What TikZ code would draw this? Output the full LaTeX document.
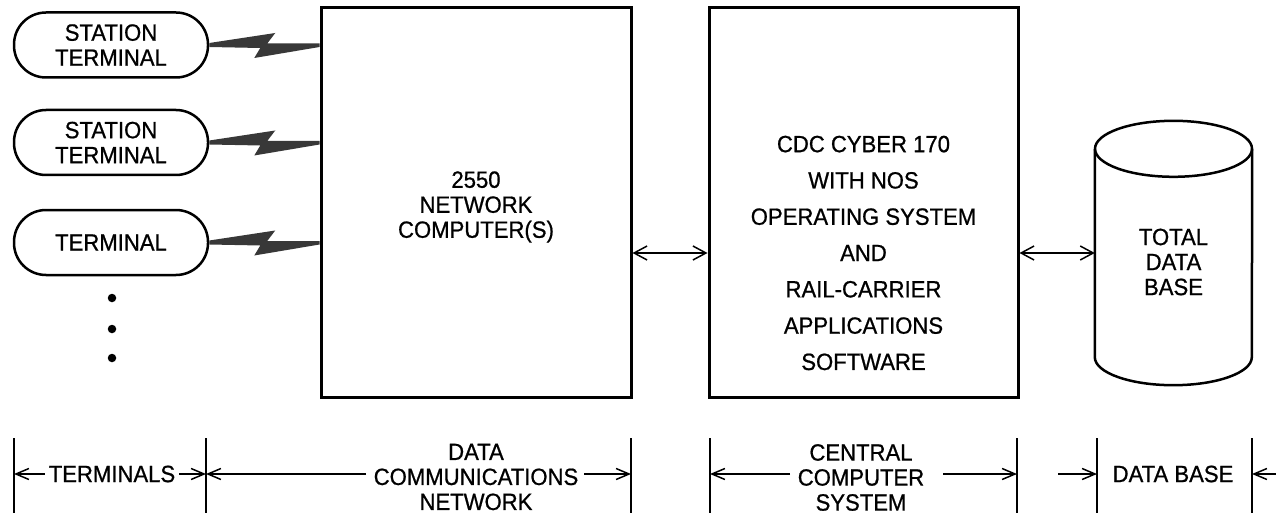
\documentclass[tikz,border=0pt]{standalone}
\usepackage{fontspec}
\setmainfont{Liberation Sans}[FakeStretch=0.94, FakeBold=0.8]
\usetikzlibrary{arrows.meta,calc}
\newcommand\boltshape[2]{%
  \fill[boltfill] ($(#1)+(0,-2)$) -- ($(#1)+(66,-12)$) -- ($(#1)+(58,-1.5)$)
    -- ($(#2)+(0,-1.5)$) -- ($(#2)+(0,2)$) -- ($(#1)+(45,13)$)
    -- ($(#1)+(51,3)$) -- ($(#1)+(0,2)$) -- cycle;}
\begin{document}
\begin{tikzpicture}[x=1pt,y=-1pt,
  txt/.style={font=\fontsize{23.5}{25}\selectfont, align=center, inner sep=0},
  termbox/.style={draw, line width=2.5pt, rounded corners=32pt, minimum width=194pt,
     minimum height=65pt, inner sep=0, align=center, font=\fontsize{23.5}{25}\selectfont},
  bigbox/.style={draw, line width=3pt, inner sep=0},
  boltfill/.style={fill=black!78},
  link/.style={line width=1.5pt, {Straight Barb[length=13pt,width=14pt]}-{Straight Barb[length=13pt,width=14pt]}},
  dim/.style={line width=1.5pt, -{Straight Barb[length=13pt,width=11pt]}},
  tick/.style={line width=2pt},
  dot/.style={circle, fill=black, inner sep=0, minimum size=8.5pt}]
\useasboundingbox (0,0) rectangle (1276,513);
% terminals
\node[termbox] (t1) at (111,45) {STATION\\TERMINAL};
\node[termbox] (t2) at (111,142.5) {STATION\\TERMINAL};
\node[termbox] (t3) at (111,242.5) {TERMINAL};
\node[dot] (d1) at (112,298) {};
\node[dot] (d2) at (112,329) {};
\node[dot] (d3) at (112,358) {};
% boxes
\node[bigbox, minimum width=310pt, minimum height=389pt] (box1) at (476,202.5) {};
\node[txt] (box1t) at (476,207) {2550\\NETWORK\\COMPUTER(S)};
\node[bigbox, minimum width=309pt, minimum height=389pt] (box2) at (863.5,202.5) {};
\node[txt, font=\fontsize{23.5}{36.3}\selectfont] (box2t) at (863.5,253) {CDC CYBER 170\\WITH NOS\\OPERATING SYSTEM\\AND\\RAIL-CARRIER\\APPLICATIONS\\SOFTWARE};
% cylinder
\node[inner sep=0, minimum width=157pt, minimum height=264pt] (db) at (1173.5,253) {};
\draw[line width=2.5pt] ($(db.north west)+(0,28)$) -- ($(db.south west)+(0,-28)$)
   arc[start angle=180, end angle=360, x radius=78.5, y radius=-28]
   -- ($(db.north east)+(0,28)$);
\draw[line width=2.5pt] ($(db.north)+(0,28)$) ellipse[x radius=78.5, y radius=28];
\node[txt] (dbt) at (1173.5,262) {TOTAL\\DATA\\BASE};
% bolts
\coordinate (e1) at (t1.east -| box1.west);
\coordinate (e2) at (t2.east -| box1.west);
\coordinate (e3) at (t3.east -| box1.west);
\boltshape{t1.east}{e1}
\boltshape{t2.east}{e2}
\boltshape{t3.east}{e3}
% links
\coordinate (mid) at (0,253);
\draw[link] (box1.east |- mid) -- (box2.west |- mid);
\draw[link] (box2.east |- mid) -- (db.west |- mid);
% bottom scale
\foreach \n/\x in {k1/14,k2/206,k3/631,k4/710,k5/1017,k6/1097,k7/1252}{
  \coordinate (\n) at (\x,474);
  \draw[tick] (\x,438) -- (\x,513);
}
\coordinate (k8) at (1276,474);
\coordinate (k9) at (1058,474);
\coordinate (a1) at (366,474);
\coordinate (a2) at (584,474);
\coordinate (a3) at (790,474);
\coordinate (a4) at (943,474);
\node[txt] (lt) at (112,474) {TERMINALS};
\node[txt] (ld) at (476,477) {DATA\\COMMUNICATIONS\\NETWORK};
\node[txt] (lc) at (861,477.5) {CENTRAL\\COMPUTER\\SYSTEM};
\node[txt] (lb) at (1173,474) {DATA BASE};
\draw[dim] ($(lt.west)+(-4,0)$) -- (k1);
\draw[dim] ($(lt.east)+(4,0)$) -- (k2);
\draw[dim] (a1) -- (k2);
\draw[dim] (a2) -- (k3);
\draw[dim] (a3) -- (k4);
\draw[dim] (a4) -- (k5);
\draw[dim] (k9) -- (k6);
\draw[dim] (k8) -- (k7);
\end{tikzpicture}
\end{document}
